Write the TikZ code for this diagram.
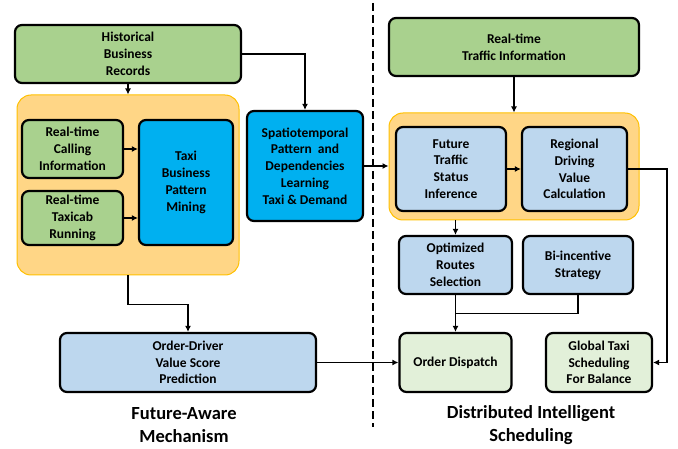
\documentclass[tikz,border=0pt]{standalone}
\usepackage{fontspec}
\setmainfont{Carlito}
\usetikzlibrary{arrows.meta,calc}
\definecolor{cgreen}{HTML}{A9D18E}
\definecolor{corange}{HTML}{FFD686}
\definecolor{corangeline}{HTML}{FFC000}
\definecolor{ccyan}{HTML}{00B0F0}
\definecolor{clblue}{HTML}{BDD7EE}
\definecolor{clgreen}{HTML}{E2F0D9}
\tikzset{
  box/.style={draw=black, line width=2.2pt, rounded corners=7pt, inner sep=0pt,
    align=center, font=\fontsize{13.5}{16.8}\selectfont\bfseries},
  gbox/.style={box, fill=cgreen},
  cbox/.style={box, fill=ccyan},
  bbox/.style={box, fill=clblue},
  lgbox/.style={box, fill=clgreen},
  obox/.style={draw=corangeline, line width=1pt, fill=corange, rounded corners=14pt, inner sep=0pt},
  arr/.style={line width=1.8pt, -{Latex[length=6pt,width=6pt]}},
  ln/.style={line width=1.8pt},
  title/.style={align=center, font=\fontsize{18.5}{23}\selectfont\bfseries}
}
\begin{document}
\begin{tikzpicture}[x=1pt,y=-1pt]
\useasboundingbox (0,0) rectangle (678,449);
% left side
\node[gbox, minimum width=226pt, minimum height=58pt] (hist) at (128,54) {Historical\\Business\\Records};
\node[obox, minimum width=222pt, minimum height=180pt] (o1) at (128,185) {};
\node[gbox, minimum width=101pt, minimum height=58pt] (call) at (72.5,149) {Real-time\\Calling\\Information};
\node[gbox, minimum width=101pt, minimum height=54pt] (cab) at (72.5,218) {Real-time\\Taxicab\\Running};
\node[cbox, minimum width=94pt, minimum height=125pt] (mine) at (186,182.5) {Taxi\\Business\\Pattern\\Mining};
\node[cbox, minimum width=116pt, minimum height=110pt] (spat) at (305,166) {Spatiotemporal\\Pattern~~and\\Dependencies\\Learning\\Taxi \& Demand};
\node[bbox, minimum width=256pt, minimum height=59pt] (od) at (188,362.5) {Order-Driver\\Value Score\\Prediction};
% right side
\node[gbox, minimum width=250pt, minimum height=58pt] (traffic) at (514,47) {Real-time\\Traffic Information};
\node[obox, minimum width=250pt, minimum height=107pt] (o2) at (514,166.5) {};
\node[bbox, minimum width=110pt, minimum height=84pt] (fut) at (451,169) {Future\\Traffic\\Status\\Inference};
\node[bbox, minimum width=105pt, minimum height=84pt] (reg) at (574.5,169) {Regional\\Driving\\Value\\Calculation};
\node[bbox, minimum width=113pt, minimum height=58pt] (opt) at (455.5,265) {Optimized\\Routes\\Selection};
\node[bbox, minimum width=110pt, minimum height=58pt] (bi) at (578,265) {Bi-incentive\\Strategy};
\node[lgbox, minimum width=112pt, minimum height=59pt] (disp) at (455.5,362.5) {Order Dispatch};
\node[lgbox, minimum width=106pt, minimum height=59pt] (glob) at (599,362.5) {Global Taxi\\Scheduling\\For Balance};
% titles
\node[title] (t1) at (184,425.5) {Future-Aware\\Mechanism};
\node[title] (t2) at (531,425.5) {Distributed Intelligent\\Scheduling};
% divider
\coordinate (dtop) at (373,3);
\coordinate (dbot) at (373,427);
\draw[line width=2.6pt, dash pattern=on 8pt off 4pt] (dtop) -- (dbot);
% connectors
\draw[arr] (hist.south) -- (o1.north);
\draw[arr] (hist.east) -| (spat.north);
\draw[arr] (call.east) -- (call.east -| mine.west);
\draw[arr] (cab.east) -- (cab.east -| mine.west);
\draw[arr] (o1.south) -- ++(0,29) -| (od.north);
\draw[arr] (spat.east) -- (spat.east -| o2.west);
\draw[arr] (traffic.south) -- (o2.north);
\draw[arr] (fut.east) -- (reg.west);
\draw[arr] (reg.east) -- ++(39,0) |- (glob.east);
\draw[arr] (o2.south -| opt.north) -- (opt.north);
\draw[arr] (opt.south) -- (disp.north);
\draw[ln] (bi.south) |- ($(opt.south)!0.5!(disp.north)$);
\draw[arr] (od.east) -- (disp.west);
\end{tikzpicture}
\end{document}
